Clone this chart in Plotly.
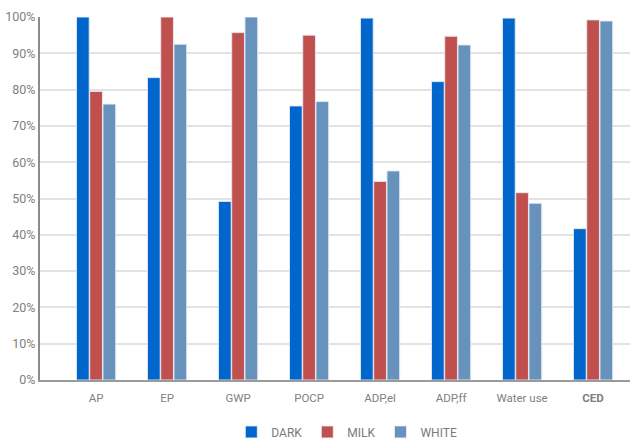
import plotly.graph_objects as go

# Impact categories and relative scores (% of the highest product in each category)
categories = ["AP", "EP", "GWP", "POCP", "ADP,el", "ADP,ff", "Water use", "CED"]
tick_labels = ["AP", "EP", "GWP", "POCP", "ADP,el", "ADP,ff", "Water use", "<b>CED</b>"]

dark = [100.0, 83.3, 49.2, 75.5, 99.7, 82.2, 99.7, 41.7]
milk = [79.5, 100.0, 95.7, 95.0, 54.7, 94.7, 51.6, 99.2]
white = [76.0, 92.5, 100.0, 76.7, 57.6, 92.3, 48.7, 98.9]

y_ticks = [0, 10, 20, 30, 40, 50, 60, 70, 80, 90, 100]

series = [
    ("DARK", dark, "#0066CC"),
    ("MILK", milk, "#C0504D"),
    ("WHITE", white, "#6792BC"),
]

fig = go.Figure()
for name, values, color in series:
    fig.add_trace(go.Bar(
        name=name,
        x=categories,
        y=values,
        marker=dict(color=color, line=dict(color="rgba(230,235,245,0.9)", width=1)),
    ))

fig.update_layout(
    width=637,
    height=447,
    margin=dict(l=40, r=7, t=17, b=67, autoexpand=False),
    paper_bgcolor="white",
    plot_bgcolor="white",
    barmode="group",
    bargap=0.44,
    bargroupgap=0.04,
    font=dict(family="Roboto, Arial, sans-serif", color="#7a7a7a"),
    showlegend=True,
    legend=dict(
        orientation="h",
        x=0.52,
        xanchor="center",
        y=-0.183,
        yanchor="bottom",
        font=dict(size=12, color="#7a7a7a"),
        itemwidth=30,
        traceorder="normal",
    ),
    xaxis=dict(
        type="category",
        tickvals=categories,
        ticktext=tick_labels,
        range=[-0.79, 7.52],
        tickfont=dict(size=11.5, color="#808080"),
        showline=True,
        linecolor="#9a9a9a",
        linewidth=2,
        showgrid=False,
        ticks="",
        ticklabelstandoff=6,
    ),
    yaxis=dict(
        range=[0, 100],
        tickvals=y_ticks,
        ticktext=[f"{v}%" for v in y_ticks],
        tickfont=dict(size=12.5, color="#808080"),
        showline=True,
        linecolor="#8c8c8c",
        linewidth=2,
        showgrid=True,
        gridcolor="#e2e2e2",
        gridwidth=1.5,
        zeroline=False,
        ticks="",
        ticklabelstandoff=0,
    ),
)

fig.write_html("out.html")
